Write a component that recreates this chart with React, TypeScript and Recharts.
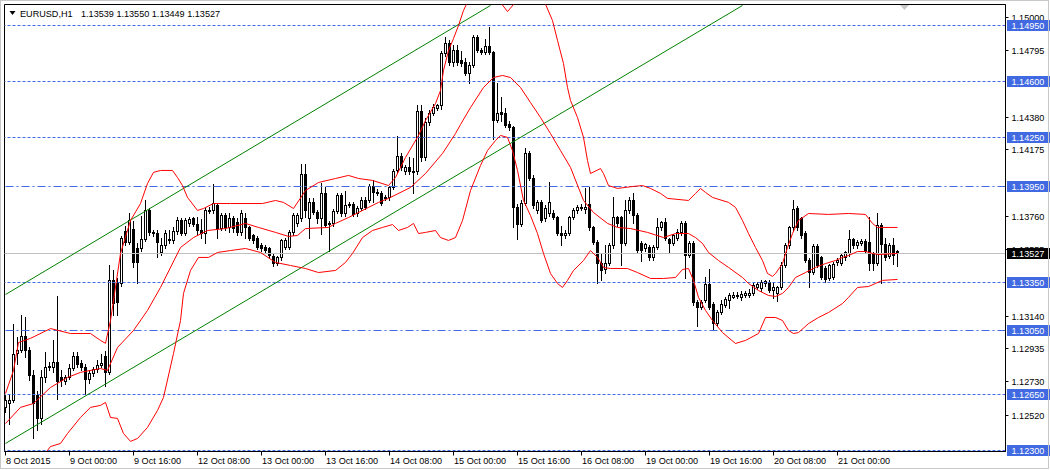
import React from 'react';
import { ComposedChart, Bar, Line, XAxis, YAxis, ReferenceLine, ReferenceArea } from 'recharts';

// EURUSD H1 candles, 8 Oct 08:00 .. 21 Oct 15:00 (224 bars)
const opens = [
  1.12571, 1.12595, 1.12614, 1.12906, 1.12925, 1.13013, 1.12925, 1.12770, 1.12645, 1.12502, 1.12757, 1.12820, 1.12820, 1.12851, 1.12757, 1.12733,
  1.12757, 1.12813, 1.12888, 1.12844, 1.12820, 1.12745, 1.12782, 1.12807, 1.12832, 1.12888, 1.12789, 1.13362, 1.13343, 1.13343, 1.13667, 1.13598,
  1.13679, 1.13561, 1.13561, 1.13617, 1.13798, 1.13661, 1.13654, 1.13536, 1.13580, 1.13611, 1.13611, 1.13667, 1.13735, 1.13654, 1.13717, 1.13748,
  1.13710, 1.13673, 1.13654, 1.13792, 1.13798, 1.13829, 1.13685, 1.13766, 1.13692, 1.13748, 1.13723, 1.13661, 1.13748, 1.13692, 1.13642, 1.13623,
  1.13580, 1.13567, 1.13561, 1.13511, 1.13467, 1.13505, 1.13567, 1.13567, 1.13661, 1.13717, 1.13748, 1.14022, 1.13748, 1.13848, 1.13785, 1.13748,
  1.13904, 1.13710, 1.13717, 1.13792, 1.13891, 1.13779, 1.13835, 1.13835, 1.13779, 1.13810, 1.13860, 1.13860, 1.13947, 1.13910, 1.13904, 1.13873,
  1.13879, 1.13941, 1.14047, 1.14134, 1.14041, 1.14066, 1.14041, 1.14041, 1.14415, 1.14128, 1.14346, 1.14402, 1.14433, 1.14452, 1.14776, 1.14838,
  1.14720, 1.14794, 1.14732, 1.14720, 1.14651, 1.14701, 1.14876, 1.14794, 1.14782, 1.14820, 1.14782, 1.14358, 1.14408, 1.14402, 1.14333, 1.14315,
  1.13817, 1.13710, 1.13841, 1.14153, 1.13997, 1.13798, 1.13848, 1.13748, 1.13779, 1.13779, 1.13754, 1.13654, 1.13642, 1.13654, 1.13754, 1.13798,
  1.13810, 1.13804, 1.13835, 1.13692, 1.13598, 1.13467, 1.13430, 1.13467, 1.13580, 1.13754, 1.13754, 1.13592, 1.13798, 1.13860, 1.13766, 1.13592,
  1.13561, 1.13567, 1.13505, 1.13567, 1.13692, 1.13723, 1.13617, 1.13592, 1.13623, 1.13661, 1.13717, 1.13517, 1.13592, 1.13225, 1.13194, 1.13237,
  1.13337, 1.13212, 1.13093, 1.13162, 1.13206, 1.13237, 1.13256, 1.13262, 1.13256, 1.13268, 1.13268, 1.13281, 1.13318, 1.13312, 1.13343, 1.13349,
  1.13299, 1.13281, 1.13318, 1.13455, 1.13580, 1.13692, 1.13810, 1.13748, 1.13654, 1.13486, 1.13411, 1.13573, 1.13505, 1.13436, 1.13374, 1.13380,
  1.13474, 1.13467, 1.13505, 1.13530, 1.13617, 1.13580, 1.13592, 1.13605, 1.13598, 1.13530, 1.13467, 1.13704, 1.13586, 1.13511, 1.13580, 1.13539,
];
const highs = [
  1.12651, 1.12657, 1.13093, 1.13007, 1.13144, 1.13132, 1.12944, 1.12801, 1.12676, 1.12801, 1.12913, 1.12851, 1.12988, 1.13262, 1.12801, 1.12770,
  1.12844, 1.12913, 1.12913, 1.12863, 1.12844, 1.12801, 1.12820, 1.12863, 1.12906, 1.12925, 1.13461, 1.13424, 1.13374, 1.13636, 1.13698, 1.13779,
  1.13735, 1.13592, 1.13766, 1.13860, 1.13810, 1.13679, 1.13673, 1.13629, 1.13673, 1.13673, 1.13692, 1.13760, 1.13748, 1.13748, 1.13760, 1.13760,
  1.13754, 1.13742, 1.13817, 1.13817, 1.13960, 1.13841, 1.13779, 1.13785, 1.13785, 1.13766, 1.13748, 1.13798, 1.13785, 1.13704, 1.13654, 1.13636,
  1.13592, 1.13580, 1.13573, 1.13530, 1.13517, 1.13623, 1.13629, 1.13673, 1.13785, 1.13785, 1.14090, 1.14090, 1.13873, 1.13873, 1.13798, 1.13966,
  1.13941, 1.13735, 1.13804, 1.13904, 1.13904, 1.13922, 1.13848, 1.13848, 1.13823, 1.13879, 1.13879, 1.13960, 1.13985, 1.13929, 1.13922, 1.13897,
  1.13953, 1.14059, 1.14259, 1.14153, 1.14078, 1.14128, 1.14122, 1.14452, 1.14452, 1.14371, 1.14421, 1.14458, 1.14464, 1.14794, 1.14876, 1.14857,
  1.14826, 1.14826, 1.14794, 1.14745, 1.14720, 1.14888, 1.14888, 1.14807, 1.14869, 1.14938, 1.14794, 1.14589, 1.14502, 1.14439, 1.14358, 1.14327,
  1.13841, 1.13860, 1.14184, 1.14171, 1.14016, 1.13860, 1.13860, 1.13829, 1.13972, 1.13798, 1.13766, 1.13704, 1.13673, 1.13766, 1.13810, 1.13829,
  1.13835, 1.13935, 1.13941, 1.13704, 1.13611, 1.13530, 1.13580, 1.13592, 1.13879, 1.13766, 1.13766, 1.13860, 1.13879, 1.13904, 1.13779, 1.13605,
  1.13598, 1.13580, 1.13580, 1.13748, 1.13735, 1.13748, 1.13629, 1.13654, 1.13685, 1.13735, 1.13735, 1.13605, 1.13605, 1.13237, 1.13237, 1.13386,
  1.13436, 1.13225, 1.13175, 1.13237, 1.13256, 1.13281, 1.13287, 1.13287, 1.13299, 1.13299, 1.13306, 1.13343, 1.13355, 1.13362, 1.13362, 1.13362,
  1.13343, 1.13330, 1.13474, 1.13592, 1.13704, 1.13860, 1.13823, 1.13760, 1.13667, 1.13499, 1.13586, 1.13586, 1.13517, 1.13449, 1.13467, 1.13474,
  1.13499, 1.13530, 1.13548, 1.13673, 1.13629, 1.13611, 1.13617, 1.13617, 1.13760, 1.13542, 1.13779, 1.13717, 1.13629, 1.13592, 1.13629, 1.13550,
];
const lows = [
  1.12540, 1.12470, 1.12602, 1.12844, 1.12913, 1.12882, 1.12739, 1.12383, 1.12427, 1.12470, 1.12726, 1.12801, 1.12789, 1.12626, 1.12707, 1.12714,
  1.12745, 1.12801, 1.12820, 1.12801, 1.12657, 1.12720, 1.12764, 1.12789, 1.12820, 1.12707, 1.12776, 1.13144, 1.13144, 1.13330, 1.13580, 1.13586,
  1.13443, 1.13343, 1.13548, 1.13605, 1.13648, 1.13636, 1.13505, 1.13523, 1.13567, 1.13598, 1.13598, 1.13654, 1.13642, 1.13642, 1.13704, 1.13698,
  1.13654, 1.13629, 1.13592, 1.13779, 1.13785, 1.13629, 1.13673, 1.13673, 1.13661, 1.13661, 1.13648, 1.13648, 1.13629, 1.13611, 1.13592, 1.13555,
  1.13548, 1.13536, 1.13499, 1.13449, 1.13455, 1.13492, 1.13555, 1.13555, 1.13648, 1.13704, 1.13735, 1.13754, 1.13629, 1.13773, 1.13717, 1.13654,
  1.13692, 1.13548, 1.13704, 1.13779, 1.13766, 1.13766, 1.13817, 1.13766, 1.13766, 1.13798, 1.13804, 1.13848, 1.13848, 1.13891, 1.13829, 1.13860,
  1.13866, 1.13929, 1.14035, 1.14047, 1.14028, 1.14028, 1.13904, 1.14028, 1.14109, 1.14115, 1.14333, 1.14390, 1.14421, 1.14427, 1.14763, 1.14707,
  1.14695, 1.14707, 1.14695, 1.14639, 1.14595, 1.14689, 1.14782, 1.14770, 1.14770, 1.14770, 1.14246, 1.14346, 1.14358, 1.14315, 1.14296, 1.13692,
  1.13623, 1.13698, 1.13829, 1.13985, 1.13810, 1.13785, 1.13723, 1.13735, 1.13766, 1.13742, 1.13642, 1.13580, 1.13629, 1.13642, 1.13742, 1.13785,
  1.13798, 1.13779, 1.13679, 1.13586, 1.13343, 1.13362, 1.13411, 1.13455, 1.13567, 1.13704, 1.13455, 1.13580, 1.13785, 1.13717, 1.13536, 1.13486,
  1.13548, 1.13492, 1.13492, 1.13555, 1.13679, 1.13611, 1.13530, 1.13580, 1.13611, 1.13648, 1.13380, 1.13505, 1.13206, 1.13081, 1.13181, 1.13225,
  1.13181, 1.13050, 1.13081, 1.13150, 1.13194, 1.13187, 1.13250, 1.13250, 1.13237, 1.13256, 1.13256, 1.13268, 1.13306, 1.13293, 1.13330, 1.13287,
  1.13250, 1.13231, 1.13306, 1.13443, 1.13567, 1.13679, 1.13679, 1.13629, 1.13474, 1.13318, 1.13399, 1.13443, 1.13368, 1.13355, 1.13362, 1.13368,
  1.13455, 1.13455, 1.13492, 1.13517, 1.13567, 1.13561, 1.13580, 1.13530, 1.13424, 1.13424, 1.13455, 1.13343, 1.13492, 1.13499, 1.13467, 1.13449,
];
const closes = [
  1.12614, 1.12614, 1.12900, 1.12925, 1.13013, 1.12925, 1.12770, 1.12595, 1.12502, 1.12757, 1.12820, 1.12826, 1.12851, 1.12733, 1.12739, 1.12757,
  1.12813, 1.12888, 1.12838, 1.12820, 1.12745, 1.12782, 1.12807, 1.12832, 1.12844, 1.12789, 1.13362, 1.13219, 1.13225, 1.13623, 1.13598, 1.13735,
  1.13474, 1.13474, 1.13617, 1.13798, 1.13661, 1.13654, 1.13598, 1.13580, 1.13654, 1.13617, 1.13667, 1.13735, 1.13654, 1.13735, 1.13742, 1.13710,
  1.13673, 1.13654, 1.13798, 1.13798, 1.13841, 1.13685, 1.13766, 1.13692, 1.13748, 1.13685, 1.13661, 1.13779, 1.13692, 1.13623, 1.13611, 1.13567,
  1.13561, 1.13548, 1.13517, 1.13467, 1.13505, 1.13611, 1.13611, 1.13661, 1.13766, 1.13766, 1.14022, 1.13798, 1.13848, 1.13785, 1.13748, 1.13904,
  1.13704, 1.13717, 1.13792, 1.13891, 1.13779, 1.13829, 1.13829, 1.13773, 1.13810, 1.13860, 1.13817, 1.13947, 1.13910, 1.13904, 1.13841, 1.13879,
  1.13941, 1.14041, 1.14134, 1.14066, 1.14066, 1.14041, 1.14035, 1.14415, 1.14128, 1.14346, 1.14402, 1.14439, 1.14452, 1.14776, 1.14838, 1.14720,
  1.14794, 1.14720, 1.14713, 1.14651, 1.14701, 1.14876, 1.14794, 1.14782, 1.14820, 1.14782, 1.14358, 1.14402, 1.14396, 1.14327, 1.14315, 1.13817,
  1.13710, 1.13841, 1.14153, 1.13997, 1.13829, 1.13848, 1.13735, 1.13810, 1.13848, 1.13754, 1.13654, 1.13642, 1.13654, 1.13754, 1.13798, 1.13817,
  1.13817, 1.13817, 1.13692, 1.13598, 1.13467, 1.13424, 1.13467, 1.13580, 1.13754, 1.13717, 1.13592, 1.13798, 1.13860, 1.13766, 1.13548, 1.13548,
  1.13586, 1.13505, 1.13567, 1.13692, 1.13723, 1.13623, 1.13592, 1.13642, 1.13661, 1.13717, 1.13517, 1.13592, 1.13225, 1.13194, 1.13225, 1.13337,
  1.13194, 1.13093, 1.13162, 1.13212, 1.13243, 1.13268, 1.13268, 1.13268, 1.13274, 1.13281, 1.13281, 1.13330, 1.13337, 1.13349, 1.13355, 1.13299,
  1.13318, 1.13318, 1.13455, 1.13580, 1.13692, 1.13804, 1.13692, 1.13642, 1.13486, 1.13411, 1.13573, 1.13455, 1.13380, 1.13368, 1.13455, 1.13461,
  1.13486, 1.13517, 1.13536, 1.13617, 1.13580, 1.13598, 1.13605, 1.13542, 1.13467, 1.13467, 1.13704, 1.13586, 1.13505, 1.13580, 1.13517, 1.13527,
];

// Bollinger bands (20, 2): [bar index, price]
const upperBand = [
  [0, 1.12657], [2, 1.12801], [3.25, 1.12975], [6.25, 1.13001], [11.25, 1.13062], [16.25, 1.13031], [21.25, 1.13031], [23.75, 1.12988],
  [25, 1.1297], [26.25, 1.13112], [28.75, 1.1353], [31.25, 1.13735], [33.75, 1.13841], [35.5, 1.13966], [37, 1.14035], [38.75, 1.14047],
  [41.75, 1.14047], [43, 1.14003], [44.25, 1.13953], [45.5, 1.13879], [48, 1.13798], [49.5, 1.1381], [52, 1.13841], [56.25, 1.13841],
  [64.25, 1.13841], [67.5, 1.1386], [69.5, 1.13848], [72, 1.1381], [75, 1.13922], [78.25, 1.13972], [82.5, 1.13997], [85.75, 1.14016],
  [88.25, 1.13997], [91.75, 1.13985], [95.75, 1.13953], [97.5, 1.14003], [100, 1.14128], [103.25, 1.14265], [105, 1.14358], [107.5, 1.14464],
  [108.75, 1.14545], [109.5, 1.1467], [110.75, 1.14794], [112, 1.14869], [113.25, 1.1495], [114.5, 1.15044], [117.5, 1.15199], [121.25, 1.15168],
  [123.75, 1.15094], [125.5, 1.15037], [127, 1.15081], [128.5, 1.15231], [133.75, 1.15156], [136.75, 1.14981], [138, 1.14857], [139.5, 1.14713],
  [140.5, 1.14564], [141.25, 1.14483], [143, 1.14377], [144.5, 1.14253], [145.5, 1.14109], [146.25, 1.14028], [148.75, 1.14059], [149.5, 1.14028],
  [150.75, 1.13953], [153, 1.13935], [156.75, 1.13947], [159.25, 1.13953], [161.25, 1.13935], [163.75, 1.13904], [165.5, 1.13873], [170.75, 1.1386],
  [172.5, 1.13904], [173.75, 1.13935], [175, 1.1391], [176.75, 1.13879], [180.75, 1.13848], [182.5, 1.13817], [184.25, 1.13735], [185.75, 1.13654],
  [187.5, 1.13567], [189.25, 1.13486], [190.5, 1.13405], [191.75, 1.13387], [192.5, 1.13405], [194.25, 1.13467], [195.5, 1.13567], [196.75, 1.13654],
  [198.25, 1.13735], [200.75, 1.13779], [205.75, 1.13773], [210.75, 1.13779], [215, 1.13773], [216.75, 1.13717], [218, 1.13692], [223, 1.13692],
];
const middleBand = [
  [0, 1.1247], [3.75, 1.12571], [7, 1.12595], [11.25, 1.12695], [15.5, 1.12757], [18.75, 1.12789], [23.75, 1.12813], [25.5, 1.12801],
  [28, 1.12944], [32, 1.1305], [35.5, 1.13175], [38.75, 1.13318], [43.75, 1.13567], [47, 1.13629], [50.5, 1.13673], [55, 1.13685],
  [60, 1.13717], [63.25, 1.13692], [67.5, 1.13661], [70.75, 1.13636], [73, 1.13642], [75, 1.13685], [80.75, 1.13692], [82.5, 1.13717],
  [85.75, 1.13754], [88.25, 1.13785], [90.75, 1.13817], [93.25, 1.13848], [95.75, 1.13873], [101.25, 1.13941], [105, 1.14028], [109.25, 1.14153],
  [112.5, 1.14277], [113.75, 1.14333], [116.25, 1.14439], [119.5, 1.14564], [122, 1.14626], [124.25, 1.14639], [126.25, 1.14626], [128.75, 1.14564],
  [131.25, 1.1447], [133.75, 1.14377], [136.25, 1.14277], [138.75, 1.14171], [141.25, 1.14066], [144.5, 1.1386], [147, 1.13785], [150.5, 1.13717],
  [153, 1.13692], [156.25, 1.13685], [160.5, 1.13661], [164.5, 1.13629], [167.5, 1.13654], [170.75, 1.13654], [172.5, 1.13629], [174.25, 1.13592],
  [175.75, 1.13536], [178.25, 1.13486], [180.75, 1.13443], [184.25, 1.1338], [185.75, 1.13343], [188.25, 1.13299], [190.75, 1.13268], [192.5, 1.13262],
  [194.25, 1.13281], [195.75, 1.13318], [197.5, 1.1338], [200, 1.13411], [202.5, 1.13443], [205, 1.13467], [207.5, 1.13486], [209.25, 1.13505],
  [210.75, 1.13517], [213, 1.13542], [215, 1.13542], [216.75, 1.1353], [218.25, 1.13523], [223, 1.1353],
];
const lowerBand = [
  [0, 1.12284], [3.75, 1.12215], [7, 1.1219], [11.25, 1.12327], [13.75, 1.12346], [15.5, 1.12408], [18.75, 1.12508], [21.25, 1.12571],
  [23.75, 1.12583], [25, 1.12602], [26.25, 1.12508], [28, 1.12502], [29.5, 1.12408], [31.25, 1.12359], [33, 1.12377], [35.5, 1.12446],
  [38, 1.12552], [39.5, 1.12633], [42, 1.12907], [43.75, 1.13112], [44.5, 1.13281], [46.25, 1.13424], [48.25, 1.13505], [50.75, 1.13505],
  [53, 1.13536], [56.25, 1.13548], [60, 1.13561], [63.75, 1.13536], [67.5, 1.13474], [71.25, 1.13455], [75, 1.13436], [78.25, 1.13411],
  [82.5, 1.13424], [85, 1.13474], [86.75, 1.1353], [89.25, 1.13629], [91.75, 1.13673], [94.25, 1.13692], [96.75, 1.1371], [98.25, 1.13673],
  [100.5, 1.13692], [102, 1.13717], [103.25, 1.13654], [105, 1.13661], [107.5, 1.13673], [108.75, 1.13629], [110.75, 1.13611], [112.5, 1.13629],
  [114.25, 1.13735], [116.25, 1.13922], [118.75, 1.14078], [120.5, 1.14171], [122.5, 1.14234], [123.75, 1.14265], [125.5, 1.14253], [126.75, 1.14171],
  [128, 1.14047], [129.5, 1.1386], [131.25, 1.13766], [133, 1.13654], [134.5, 1.1353], [136.25, 1.13405], [138, 1.13343], [139.25, 1.13318],
  [140.5, 1.13362], [142, 1.13424], [144.5, 1.13486], [146.25, 1.13548], [148, 1.13505], [149.5, 1.13443], [151.25, 1.13436], [155.5, 1.13436],
  [158, 1.13411], [161.25, 1.13374], [164.5, 1.13374], [167.5, 1.1338], [169.25, 1.1343], [170.75, 1.13436], [172, 1.13362], [173.25, 1.13256],
  [175, 1.13175], [176.75, 1.13112], [179.25, 1.13037], [182.5, 1.12969], [185, 1.12988], [188.25, 1.13031], [190, 1.13131], [192.5, 1.13131],
  [194.25, 1.13112], [195.75, 1.1305], [197, 1.13031], [198.25, 1.13037], [200.75, 1.13093], [203.25, 1.13131], [205.75, 1.13162], [209.25, 1.13218],
  [210.75, 1.13256], [213, 1.13318], [215.75, 1.13324], [217.5, 1.13343], [219.25, 1.13362], [223, 1.13368],
];

// hand-drawn trend channel
const channelUpper = [[0, 1.13274], [121.25, 1.15075]];
const channelLower = [[0, 1.12346], [184.25, 1.15075]];

const timeTickIdx = [0, 16, 32, 48, 64, 80, 96, 112, 128, 144, 160, 176, 192, 208];
const timeLabels = [
  '8 Oct 2015', '9 Oct 00:00', '9 Oct 16:00', '12 Oct 08:00', '13 Oct 00:00', '13 Oct 16:00', '14 Oct 08:00',
  '15 Oct 00:00', '15 Oct 16:00', '16 Oct 08:00', '19 Oct 00:00', '19 Oct 16:00', '20 Oct 08:00', '21 Oct 00:00',
];
const priceTicks = [1.15, 1.14795, 1.1438, 1.14175, 1.1376, 1.13555, 1.1314, 1.12935, 1.1273, 1.1252];
const levelPrices = [1.1495, 1.146, 1.1425, 1.1395, 1.1335, 1.1305, 1.1265, 1.123];
const dashDotLevels = [1.1395, 1.1305];

const Y_MIN = 1.12296;
const Y_MAX = 1.15081;
const FONT = '"Liberation Sans", Arial, sans-serif';
const BLUE = '#4169E1';

const candles = opens.map((o, i) => ({ i, o, h: highs[i], l: lows[i], c: closes[i] }));
const pts = (arr: number[][]) => arr.map(([i, v]) => ({ i, v }));
const last = candles[candles.length - 1];
// plain ticks first, tags after so they paint on top
const axisTicks = [...priceTicks, ...levelPrices, last.c];

const snap = (v: number) => Math.round(v - 0.5) + 0.5;

const Candle = (props: any) => {
  const { x, y, width, height, payload } = props;
  if (!payload || !height) return null;
  const { o, h, l, c } = payload;
  const k = height / (h - l);
  const cx = snap(x + width / 2);
  const yo = y + (h - o) * k;
  const yc = y + (h - c) * k;
  const top = snap(Math.min(yo, yc));
  const bot = snap(Math.max(yo, yc));
  return (
    <g>
      <line x1={cx} x2={cx} y1={Math.round(y)} y2={Math.round(y + height) + 1} stroke="#000" />
      <rect x={cx - 1} y={top} width={2} height={bot - top} fill={c >= o ? '#fff' : '#000'} stroke="#000" />
    </g>
  );
};

const TimeTick = (props: any) => {
  const { x, y, payload } = props;
  const idx = timeTickIdx.indexOf(payload.value);
  return (
    <g>
      <line x1={snap(x)} x2={snap(x)} y1={y} y2={y + 4} stroke="#000" />
      <text x={x + 0.5} y={y + 12} fontSize={9.1} fontFamily={FONT} fill="#000" textAnchor="start">
        {timeLabels[idx]}
      </text>
    </g>
  );
};

const PriceTick = (props: any) => {
  const { x, y, payload } = props;
  const v = Number(payload.value);
  const yy = snap(y);
  const isLevel = levelPrices.includes(v);
  const isLast = v === last.c && !priceTicks.includes(v);
  if (isLevel || isLast) {
    return (
      <g>
        <rect x={x + 1.5} y={yy - 5.5} width={44} height={11} fill={isLast ? '#000' : BLUE} />
        <text x={x + 6} y={yy + 3.3} fontSize={9.1} fontFamily={FONT} fill="#fff">
          {v.toFixed(5)}
        </text>
      </g>
    );
  }
  return (
    <g>
      <line x1={x} x2={x + 3} y1={yy} y2={yy} stroke="#000" />
      <text x={x + 6} y={yy + 3.3} fontSize={9.1} fontFamily={FONT} fill="#000" textAnchor="start">
        {v.toFixed(5)}
      </text>
    </g>
  );
};

const flatLine = (props: any) => {
  const y = snap(props.y1);
  return (
    <line x1={props.x1} x2={props.x2} y1={y} y2={y} stroke={props.stroke} strokeDasharray={props.strokeDasharray} />
  );
};

export default function App() {
  return (
    <div style={{ position: 'absolute', left: 0, top: 0, width: 1050, height: 470, background: '#fff' }}>
      <ComposedChart width={1050} height={470} data={candles} margin={{ top: 4.5, right: 0, bottom: 0, left: 4.5 }}>
        <XAxis
          dataKey="i"
          type="number"
          domain={[-0.25, 250]}
          allowDataOverflow
          ticks={timeTickIdx}
          interval={0}
          height={18.5}
          tickSize={0}
          tickMargin={0}
          tickLine={false}
          axisLine={{ stroke: '#000' }}
          tick={<TimeTick />}
        />
        <YAxis
          orientation="right"
          type="number"
          domain={[Y_MIN, Y_MAX]}
          allowDataOverflow
          ticks={axisTicks}
          interval={0}
          width={44.5}
          tickSize={0}
          tickMargin={0}
          tickLine={false}
          axisLine={{ stroke: '#000' }}
          tick={<PriceTick />}
        />
        <ReferenceArea x1={-0.25} x2={250} y1={Y_MIN} y2={Y_MAX} fill="none" stroke="#000" ifOverflow="visible" />
        {levelPrices.map((p) => (
          <ReferenceLine
            key={p}
            y={p}
            stroke={BLUE}
            strokeDasharray={dashDotLevels.includes(p) ? '8 3 2 3' : '3 2'}
            shape={flatLine}
          />
        ))}
        <ReferenceLine y={last.c} stroke="#c0c0c0" shape={flatLine} />
        <Bar dataKey={(d: any) => [d.l, d.h]} barSize={3} shape={<Candle />} isAnimationActive={false} />
        <Line data={pts(channelUpper)} dataKey="v" type="linear" stroke="#008000" strokeWidth={1} dot={false} isAnimationActive={false} />
        <Line data={pts(channelLower)} dataKey="v" type="linear" stroke="#008000" strokeWidth={1} dot={false} isAnimationActive={false} />
        <Line data={pts(upperBand)} dataKey="v" type="linear" stroke="#ff0000" strokeWidth={1} dot={false} isAnimationActive={false} />
        <Line data={pts(middleBand)} dataKey="v" type="linear" stroke="#ff0000" strokeWidth={1} dot={false} isAnimationActive={false} />
        <Line data={pts(lowerBand)} dataKey="v" type="linear" stroke="#ff0000" strokeWidth={1} dot={false} isAnimationActive={false} />
      </ComposedChart>
      <svg width={1050} height={470} style={{ position: 'absolute', left: 0, top: 0, pointerEvents: 'none' }}>
        <polygon points="9.5,11 15.5,11 12.5,15" fill="#000" />
        <text x={20} y={16.5} fontSize={9.1} fontFamily={FONT} fill="#000">EURUSD,H1</text>
        <text x={81} y={16.5} fontSize={9.1} fontFamily={FONT} fill="#000">
          {[last.o, last.h, last.l, last.c].map((v) => v.toFixed(5)).join(' ')}
        </text>
        <polygon points="900,5 909,5 904.5,10" fill="#c8c8c8" />
        <rect x={0.5} y={0.5} width={1048} height={468} fill="none" stroke="#c8c8c8" />
      </svg>
    </div>
  );
}
